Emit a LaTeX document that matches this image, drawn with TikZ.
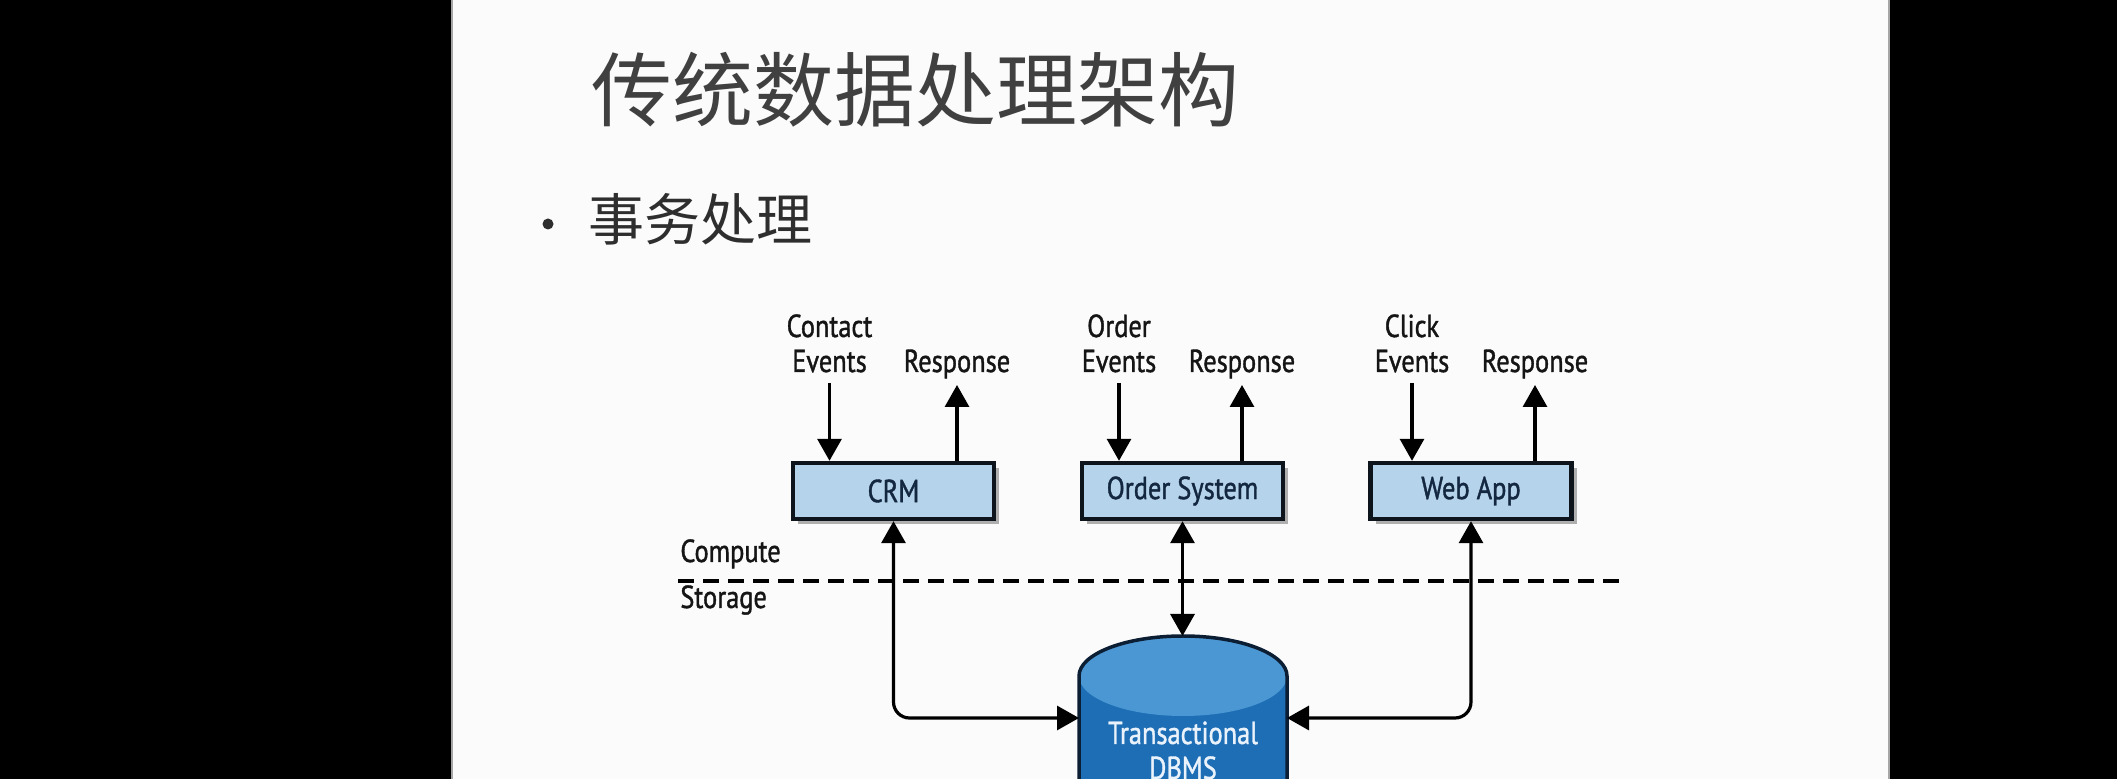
\documentclass[tikz,border=0pt]{standalone}
\usepackage{fontspec}
\newfontfamily\cjk{Noto Sans CJK SC}
\newfontfamily\lbl{PT Sans}[FakeStretch=0.83,FakeBold=1.2]
\usetikzlibrary{arrows.meta,shadows}
\definecolor{slidebg}{HTML}{FBFBFB}
\definecolor{titlec}{HTML}{404040}
\definecolor{subc}{HTML}{2E2E2E}
\definecolor{labeltext}{HTML}{151515}
\definecolor{boxfill}{HTML}{B5D3EA}
\definecolor{boxline}{HTML}{0E141B}
\definecolor{boxtext}{HTML}{132840}
\definecolor{dbtopc}{HTML}{4B97D3}
\definecolor{dbbodyc}{HTML}{1E6EB6}
\definecolor{dblinec}{HTML}{0C1E33}
\definecolor{dbtextc}{HTML}{EAF3FB}
\begin{document}
\begin{tikzpicture}[x=0.5pt,y=-0.5pt,
  lbl/.style={font=\lbl\fontsize{15.9}{17.5}\selectfont, text=labeltext, inner sep=0pt, align=center, anchor=base},
  sysbox/.style={draw=boxline, line width=2.2pt, fill=boxfill, minimum width=100.5pt, minimum height=28pt, inner sep=0pt,
    font=\lbl\fontsize{15.9}{17.5}\selectfont, text=boxtext,
    drop shadow={shadow xshift=2.5pt, shadow yshift=-2.5pt, opacity=0.3, fill=black}},
  arr/.style={line width=1.6pt, -{Triangle[width=12pt,length=11pt]}},
  dbl/.style={line width=1.6pt, {Triangle[width=12pt,length=11pt]}-{Triangle[width=12pt,length=11pt]}},
]
\useasboundingbox (0,0) rectangle (2117,779);
\clip (0,0) rectangle (2117,779);
% screen and slide
\fill[black] (0,0) rectangle (2117,779);
\fill[slidebg] (451,0) rectangle (1890,779);
\draw[gray!70, line width=0.8pt] (452,0) -- (452,779);
\draw[gray!70, line width=0.8pt] (1889,0) -- (1889,779);

% title and bullet
\node[anchor=base west, inner sep=0pt, text=titlec, font=\cjk\fontsize{40.5}{48}\selectfont] (title) at (591,121) {传统数据处理架构};
\fill[subc] (548,224) circle[radius=5.5] coordinate (bullet);
\node[anchor=base west, inner sep=0pt, text=subc, font=\cjk\fontsize{28}{34}\selectfont] (sub) at (588,241) {事务处理};

% systems
\node[sysbox] (crm) at (893.5,491) {CRM};
\node[sysbox] (order) at (1182.5,491) {Order System};
\node[sysbox] (web) at (1471,491) {Web App};

% input / output labels
\node[lbl] (crmin) at (829.5,372) {Contact\\Events};
\node[lbl] (crmout) at (957,372) {Response};
\node[lbl] (ordin) at (1119,372) {Order\\Events};
\node[lbl] (ordout) at (1242,372) {Response};
\node[lbl] (webin) at (1412,372) {Click\\Events};
\node[lbl] (webout) at (1535,372) {Response};

\coordinate (crminA) at (829.5,383);
\coordinate (crmoutA) at (957,385);
\coordinate (ordinA) at (1119,383);
\coordinate (ordoutA) at (1242,385);
\coordinate (webinA) at (1412,383);
\coordinate (weboutA) at (1535,385);

\draw[arr] (crminA) -- (crminA |- crm.north);
\draw[arr] (crm.north -| crmoutA) -- (crmoutA);
\draw[arr] (ordinA) -- (ordinA |- order.north);
\draw[arr] (order.north -| ordoutA) -- (ordoutA);
\draw[arr] (webinA) -- (webinA |- web.north);
\draw[arr] (web.north -| weboutA) -- (weboutA);

% compute / storage divider
\node[lbl, anchor=base west] (compute) at (680,562) {Compute};
\node[lbl, anchor=base west] (storage) at (680,608) {Storage};
\coordinate (divL) at (678,581);
\coordinate (divR) at (1627,581);
\draw[line width=2pt, dash pattern=on 8pt off 4.5pt] (divL) -- (divR);

% database cylinder
\coordinate (dbc) at (1183,676);
\fill[dbbodyc] (1079,800) -- (1079,676) arc[start angle=180,end angle=0,x radius=52pt,y radius=20pt] -- (1287,800) -- cycle;
\fill[dbtopc] (dbc) ellipse[x radius=52pt,y radius=20pt];
\draw[dblinec, line width=1.75pt] (1079,800) -- (1079,676) arc[start angle=180,end angle=0,x radius=52pt,y radius=20pt] -- (1287,800);
\node[lbl, text=dbtextc] (db) at (1183,779) {Transactional\\DBMS};
\coordinate (dbtop) at (1183,636);
\coordinate (dbL) at (1079,718);
\coordinate (dbR) at (1287,718);

% connectors to storage
\draw[dbl, rounded corners=8pt] (crm.south) -- (crm.south |- dbL) -- (dbL);
\draw[dbl] (order.south) -- (order.south |- dbtop);
\draw[dbl, rounded corners=8pt] (web.south) -- (web.south |- dbR) -- (dbR);
\end{tikzpicture}
\end{document}
